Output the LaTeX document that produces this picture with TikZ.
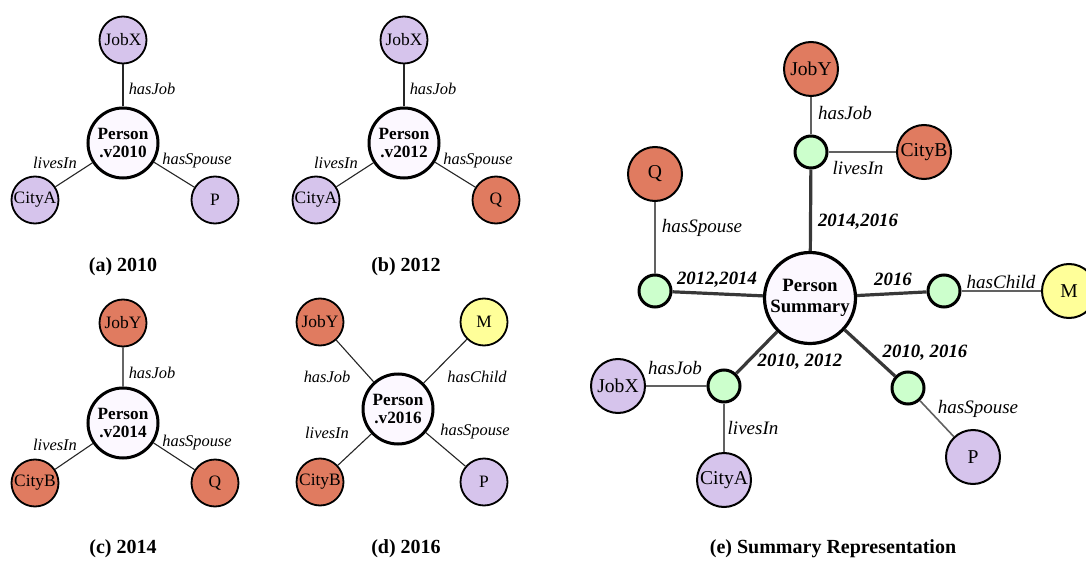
\documentclass[tikz,border=0pt]{standalone}
\usepackage{fontspec}
\setmainfont{Liberation Serif}
\definecolor{lav}{RGB}{214,196,236}
\definecolor{rust}{RGB}{224,123,96}
\definecolor{lemon}{RGB}{255,255,153}
\definecolor{mint}{RGB}{204,255,204}
\definecolor{pale}{RGB}{252,248,255}
\begin{document}
\begin{tikzpicture}[x=0.5pt,y=-0.5pt,
    ent/.style={circle,draw,line width=0.9pt,minimum size=23.5pt,inner sep=0pt,font=\fontsize{8.7}{10}\selectfont},
    person/.style={circle,draw,line width=1.5pt,fill=pale,minimum size=35pt,inner sep=0pt,align=center,font=\fontsize{8.6}{9}\selectfont\bfseries},
    rel/.style={font=\fontsize{8.2}{10}\selectfont\itshape,inner sep=0pt},
    link/.style={line width=0.55pt,black!85},
    capt/.style={font=\fontsize{10}{12}\selectfont\bfseries},
    bigent/.style={ent,minimum size=27pt,line width=1pt,font=\fontsize{9.8}{11}\selectfont},
    hub/.style={circle,draw,line width=1.5pt,fill=mint,minimum size=16pt,inner sep=0pt},
    bigrel/.style={font=\fontsize{9.5}{11}\selectfont\itshape,inner sep=0pt},
    years/.style={font=\fontsize{9.4}{11}\selectfont\bfseries\itshape,inner sep=0pt},
    spoke/.style={line width=1.6pt,black!78},
    twig/.style={line width=0.8pt,black!62}]
    \useasboundingbox (0,0) rectangle (1086,561);

    % (a) 2010
    \node[person] (pa) at (123,143) {Person\\.v2010};
    \node[ent,fill=lav] (jobxa) at (123,40) {JobX};
    \node[ent,fill=lav] (citya) at (35,200) {CityA};
    \node[ent,fill=lav] (pa2) at (215,200) {P};
    \draw[link] (pa) -- (jobxa);
    \draw[link] (pa) -- (citya);
    \draw[link] (pa) -- (pa2);
    \node[rel] (ja) at (152,89) {hasJob};
    \node[rel] (la) at (55,163) {livesIn};
    \node[rel] (sa) at (197,161) {hasSpouse};
    \node[capt] (capa) at (123,267) {(a) 2010};

    % (b) 2012
    \begin{scope}[shift={(281,0)}]
        \node[person] (pb) at (123,143) {Person\\.v2012};
        \node[ent,fill=lav] (jobxb) at (123,40) {JobX};
        \node[ent,fill=lav] (cityb) at (35,200) {CityA};
        \node[ent,fill=rust] (qb) at (215,200) {Q};
        \draw[link] (pb) -- (jobxb);
        \draw[link] (pb) -- (cityb);
        \draw[link] (pb) -- (qb);
        \node[rel] (jb) at (152,89) {hasJob};
        \node[rel] (lb) at (55,163) {livesIn};
        \node[rel] (sb) at (197,161) {hasSpouse};
        \node[capt] (capb) at (125,267) {(b) 2012};
    \end{scope}

    % (c) 2014
    \begin{scope}[shift={(0,280)}]
        \node[person] (pc) at (123,143) {Person\\.v2014};
        \node[ent,fill=rust] (jobyc) at (123,43) {JobY};
        \node[ent,fill=rust] (cityc) at (35,203) {CityB};
        \node[ent,fill=rust] (qc) at (215,203) {Q};
        \draw[link,black!60,line width=0.9pt] (pc) -- (jobyc);
        \draw[link] (pc) -- (cityc);
        \draw[link] (pc) -- (qc);
        \node[rel] (jc) at (152,93) {hasJob};
        \node[rel] (lc) at (55,165) {livesIn};
        \node[rel] (sc) at (197,163) {hasSpouse};
        \node[capt] (capc) at (123,269) {(c) 2014};
    \end{scope}

    % (d) 2016
    \node[person] (pd) at (398,409) {Person\\.v2016};
    \node[ent,fill=rust] (jobyd) at (320,322) {JobY};
    \node[ent,fill=lemon] (md) at (484,322) {M};
    \node[ent,fill=rust] (cityd) at (320,482) {CityB};
    \node[ent,fill=lav] (pd2) at (484,482) {P};
    \draw[link] (pd) -- (jobyd);
    \draw[link] (pd) -- (md);
    \draw[link] (pd) -- (cityd);
    \draw[link] (pd) -- (pd2);
    \node[rel] (jd) at (327,377) {hasJob};
    \node[rel] (cd) at (477,377) {hasChild};
    \node[rel] (ld) at (327,433) {livesIn};
    \node[rel] (sd) at (475,432) {hasSpouse};
    \node[capt] (capd) at (406,549) {(d) 2016};

    % (e) summary
    \node[person,minimum size=45.5pt,line width=1.6pt,font=\fontsize{9.4}{10.3}\selectfont\bfseries] (ps) at (810,298) {Person\\Summary};
    \node[hub] (g1) at (811,152) {};
    \node[hub] (g2) at (655,291) {};
    \node[hub] (g3) at (944,291) {};
    \node[hub] (g4) at (724,386) {};
    \node[hub] (g5) at (908,388) {};
    \node[bigent,fill=rust] (jobye) at (811,69) {JobY};
    \node[bigent,fill=rust] (citybe) at (924,152) {CityB};
    \node[bigent,fill=rust] (qe) at (655,174) {Q};
    \node[bigent,fill=lemon] (me) at (1069,291) {M};
    \node[bigent,fill=lav] (jobxe) at (618,386) {JobX};
    \node[bigent,fill=lav] (cityae) at (724,480) {CityA};
    \node[bigent,fill=lav] (pe) at (973,457) {P};
    \draw[spoke] (ps) -- (g1);
    \draw[spoke] (ps) -- (g2);
    \draw[spoke] (ps) -- (g3);
    \draw[spoke] (ps) -- (g4);
    \draw[spoke] (ps) -- (g5);
    \draw[twig] (g1) -- (jobye);
    \draw[twig] (g1) -- (citybe);
    \draw[twig] (g2) -- (qe);
    \draw[twig] (g3) -- (me);
    \draw[twig] (g4) -- (jobxe);
    \draw[twig] (g4) -- (cityae);
    \draw[twig] (g5) -- (pe);
    \node[bigrel] (je) at (845,113) {hasJob};
    \node[bigrel] (le) at (858,168) {livesIn};
    \node[bigrel] (se) at (702,228) {hasSpouse};
    \node[bigrel] (ce) at (1001,282) {hasChild};
    \node[bigrel] (je2) at (675,368) {hasJob};
    \node[bigrel] (le2) at (753,428) {livesIn};
    \node[bigrel] (se2) at (978,409) {hasSpouse};
    \node[years] (y1) at (858,222) {2014,2016};
    \node[years] (y2) at (717,280) {2012,2014};
    \node[years] (y3) at (893,279) {2016};
    \node[years] (y4) at (800,362) {2010, 2012};
    \node[years] (y5) at (925,353) {2010, 2016};
    \node[capt] (cape) at (833,549) {(e) Summary Representation};
\end{tikzpicture}
\end{document}
